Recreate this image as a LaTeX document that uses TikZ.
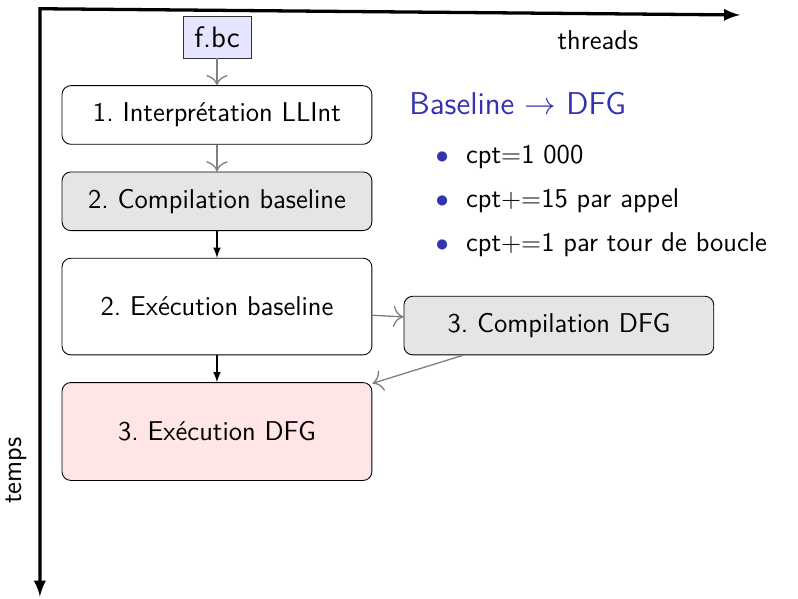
\documentclass[tikz,border=0pt]{standalone}
\usepackage{tikz}
\usetikzlibrary{calc,positioning,arrows,arrows.meta}
\definecolor{struct}{rgb}{0.2,0.2,0.7}
\newcommand{\puceronde}{\llap{\textcolor{struct}{$\bullet$}\hspace{0.28cm}}}
\tikzset{
    >={To[scale=1.6]},
    etape/.style={
        rectangle,
        rounded corners=4pt,
        draw=black,
        minimum width=4.97cm,
        minimum height=0.94cm,
        text centered
    },
    grisfleche/.style={draw=gray, semithick, ->},
    noirfleche/.style={draw, semithick, -latex},
    axe/.style={draw, line width=1.5pt, latex-latex},
    puce/.style={anchor=west, inner sep=0pt}
}
\begin{document}
\begin{tikzpicture}[
            font=\sffamily\fontsize{12.4}{15}\selectfont,
            fichier/.style={
                rectangle,
                draw=black!80,
                fill=blue!10,
                minimum width=1.09cm,
                minimum height=0.66cm
            },
            node distance=0.43cm and 0.5cm]
    \useasboundingbox (0,0) rectangle (12.8,-9.6);

    % axes
    \coordinate (origine) at (0.64,-0.14);
    \coordinate (fin x) at (11.87,-0.24);
    \coordinate (fin y) at (0.64,-9.57);
    \draw[axe] (fin x) -- (origine) -- (fin y);
    \node (threads) at (9.59,-0.64) {threads};
    \node[rotate=90] (temps) at (0.26,-7.55) {temps};

    % chaine des etapes
    \node[fichier, font=\sffamily\fontsize{13.5}{16}\selectfont] (fbc) at (3.48,-0.60) {f.bc};
    \node[etape, below=of fbc] (llint) {1.~Interprétation LLInt};
    \node[etape, fill=gray!20, below=of llint] (compb) {2.~Compilation baseline};
    \node[etape, minimum height=1.55cm, below=of compb] (execb) {2.~Exécution baseline};
    \node[etape, fill=gray!20, right=0.5cm of execb.south east, anchor=south west] (compd) {3.~Compilation DFG};
    \node[etape, fill=red!10, minimum height=1.57cm, below=of execb] (execd) {3.~Exécution DFG};

    \draw[grisfleche] (fbc) -- (llint);
    \draw[grisfleche] (llint) -- (compb);
    \draw[noirfleche] (compb) -- (execb);
    \draw[noirfleche] (execb) -- (execd);
    \draw[grisfleche] (execb) -- (compd);
    \draw[grisfleche] (compd) -- (execd);

    % seuils
    \node[anchor=west, inner sep=0pt, text=struct, font=\sffamily\fontsize{14.4}{17}\selectfont] (seuil) at (6.56,-1.66) {Baseline $\rightarrow$ DFG};
    \node[puce] (cpt1) at (7.47,-2.51) {\puceronde cpt${=}$1~000};
    \node[puce] (cpt2) at (7.47,-3.22) {\puceronde cpt$+{=}$15 par appel};
    \node[puce] (cpt3) at (7.47,-3.92) {\puceronde cpt$+{=}$1 par tour de boucle};
\end{tikzpicture}
\end{document}
